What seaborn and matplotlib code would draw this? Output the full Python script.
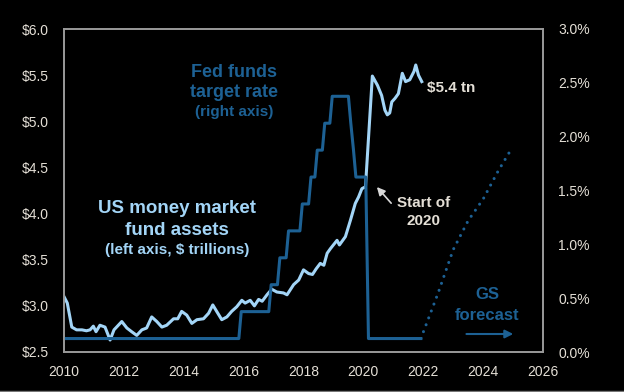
import numpy as np
import matplotlib
matplotlib.use("Agg")
import matplotlib.pyplot as plt
from matplotlib.lines import Line2D
import pandas as pd
import seaborn as sns

# money market fund assets, $ trillions (left axis)
mmf_year = [2010.0, 2010.11, 2010.26, 2010.42, 2010.6, 2010.75, 2010.87, 2010.98, 2011.07, 2011.2,
            2011.37, 2011.54, 2011.67, 2011.93, 2012.1, 2012.26, 2012.43, 2012.6, 2012.76, 2012.93,
            2013.1, 2013.27, 2013.43, 2013.66, 2013.8, 2013.93, 2014.1, 2014.27, 2014.44, 2014.66,
            2014.83, 2014.97, 2015.1, 2015.27, 2015.44, 2015.6, 2015.77, 2015.94, 2016.05, 2016.22,
            2016.36, 2016.5, 2016.62, 2016.78, 2016.94, 2017.11, 2017.33, 2017.45, 2017.67, 2017.84,
            2018.0, 2018.17, 2018.3, 2018.42, 2018.56, 2018.68, 2018.79, 2018.9, 2019.12, 2019.2,
            2019.4, 2019.57, 2019.73, 2019.84, 2019.95, 2020.07, 2020.3, 2020.47, 2020.61, 2020.72,
            2020.8, 2020.88, 2020.95, 2021.06, 2021.17, 2021.3, 2021.41, 2021.55, 2021.69, 2021.75,
            2021.84, 2021.95]
mmf_assets = [3.10, 3.03, 2.77, 2.74, 2.74, 2.73, 2.74, 2.78, 2.72, 2.79,
              2.77, 2.63, 2.74, 2.83, 2.76, 2.72, 2.68, 2.74, 2.76, 2.88,
              2.83, 2.77, 2.79, 2.86, 2.86, 2.94, 2.90, 2.81, 2.85, 2.86,
              2.92, 3.01, 2.94, 2.85, 2.88, 2.94, 2.99, 3.06, 3.03, 3.06,
              3.00, 3.07, 3.05, 3.12, 3.18, 3.15, 3.14, 3.12, 3.23, 3.28,
              3.39, 3.35, 3.34, 3.40, 3.46, 3.44, 3.57, 3.62, 3.71, 3.66,
              3.75, 3.93, 4.11, 4.18, 4.27, 4.29, 5.49, 5.39, 5.28, 5.12,
              5.07, 5.09, 5.21, 5.25, 5.30, 5.52, 5.43, 5.45, 5.54, 5.61,
              5.50, 5.43]

# fed funds target rate midpoint, % (right axis)
ff_year = [2010.0, 2015.84, 2015.92, 2016.84, 2016.92, 2017.13, 2017.21, 2017.42, 2017.5, 2017.88,
           2017.96, 2018.17, 2018.25, 2018.38, 2018.46, 2018.63, 2018.71, 2018.88, 2018.96, 2019.5,
           2019.58, 2019.67, 2019.75, 2020.08, 2020.17, 2021.92]
ff_rate = [0.125, 0.125, 0.375, 0.375, 0.625, 0.625, 0.875, 0.875, 1.125, 1.125,
           1.375, 1.375, 1.625, 1.625, 1.875, 1.875, 2.125, 2.125, 2.375, 2.375,
           2.125, 1.875, 1.625, 1.625, 0.125, 0.125]

# GS forecast of fed funds, %
fc_year = [2021.92, 2022.5, 2023.0, 2023.5, 2024.0, 2024.5, 2024.92]
fc_rate = [0.125, 0.55, 0.95, 1.22, 1.42, 1.68, 1.875]

x_ticks = [2010, 2012, 2014, 2016, 2018, 2020, 2022, 2024, 2026]
left_ticks = [2.5, 3.0, 3.5, 4.0, 4.5, 5.0, 5.5, 6.0]
right_ticks = [0.0, 0.5, 1.0, 1.5, 2.0, 2.5, 3.0]

LIGHT = "#a3d5f7"
DARK = "#1d6194"
TXT = "#e4dfd6"

plt.rcParams['font.family'] = ['Liberation Sans', 'DejaVu Sans']

mmf = pd.DataFrame({"year": mmf_year, "assets": mmf_assets})
ff = pd.DataFrame({"year": ff_year, "rate": ff_rate})
fc = pd.DataFrame({"year": fc_year, "rate": fc_rate})

fig = plt.figure(figsize=(6.24, 3.92), dpi=100, facecolor="black")
ax = fig.add_axes([64/624, 1-352/392, 479/624, 323/392])
ax.set_facecolor("black")
ax2 = ax.twinx()

sns.lineplot(data=mmf, x="year", y="assets", ax=ax, color=LIGHT, linewidth=2.2)
sns.lineplot(data=ff, x="year", y="rate", ax=ax2, color=DARK, linewidth=2.2)
sns.lineplot(data=fc, x="year", y="rate", ax=ax2, color=DARK, linewidth=2.2,
             linestyle=(0, (0.01, 2.4)), dash_capstyle="round")

ax.set_xlim(2010, 2026)
ax.set_ylim(2.5, 6.0)
ax2.set_ylim(0, 3.0)
ax.set_xticks(x_ticks)
ax.set_xticklabels([str(t) for t in x_ticks])
ax.set_yticks(left_ticks)
ax.set_yticklabels(["$%.1f" % v for v in left_ticks])
ax2.set_yticks(right_ticks)
ax2.set_yticklabels(["%.1f%%" % v for v in right_ticks])
for a in (ax, ax2):
    a.set_xlabel("")
    a.set_ylabel("")
    a.tick_params(length=0, labelcolor=TXT, labelsize=10)
    for s in a.spines.values():
        s.set_color("#9a9a9a")
        s.set_linewidth(1.2)
ax.tick_params(axis="y", pad=11)
ax.tick_params(axis="x", pad=9)
ax2.tick_params(axis="y", pad=11)
ax.grid(False)
ax2.grid(False)

# annotations (left-axis data coords)
ax.text(2015.68, 5.53, "Fed funds", color=DARK, fontsize=13, fontweight="bold", ha="center", va="center")
ax.text(2015.68, 5.31, "target rate", color=DARK, fontsize=13, fontweight="bold", ha="center", va="center")
ax.text(2015.68, 5.10, "(right axis)", color=DARK, fontsize=11, fontweight="bold", ha="center", va="center")

ax.text(2013.77, 4.06, "US money market", color=LIGHT, fontsize=13.5, fontweight="bold", ha="center", va="center")
ax.text(2013.77, 3.82, "fund assets", color=LIGHT, fontsize=13.5, fontweight="bold", ha="center", va="center")
ax.text(2013.77, 3.605, "(left axis, $ trillions)", color=LIGHT, fontsize=11, fontweight="bold", ha="center", va="center")

ax.text(2022.12, 5.36, "$5.4 tn", color=TXT, fontsize=11, fontweight="bold", ha="left", va="center")
ax.text(2022.02, 4.11, "Start of", color=TXT, fontsize=11, fontweight="bold", ha="center", va="center")
ax.text(2022.02, 3.92, "2020", color=TXT, fontsize=11, fontweight="bold", ha="center", va="center")
ax.annotate("", xy=(2020.39, 4.31), xytext=(2020.99, 4.09),
            arrowprops=dict(arrowstyle="-|>", color="#d8d8d8", lw=1.2, mutation_scale=12))

ax.text(2024.13, 3.12, "GS", color=DARK, fontsize=12, fontweight="bold", ha="center", va="center")
ax.text(2024.13, 2.90, "forecast", color=DARK, fontsize=12, fontweight="bold", ha="center", va="center")
ax.annotate("", xy=(2025.1, 2.695), xytext=(2023.35, 2.695),
            arrowprops=dict(arrowstyle="-|>", color=DARK, lw=1.5, mutation_scale=12))

# thin grey border along the bottom of the screenshot
fig.add_artist(Line2D([0, 1], [1.5/392, 1.5/392], transform=fig.transFigure, color="#777777", lw=1))

fig.savefig("out.png", dpi=100, facecolor="black")
